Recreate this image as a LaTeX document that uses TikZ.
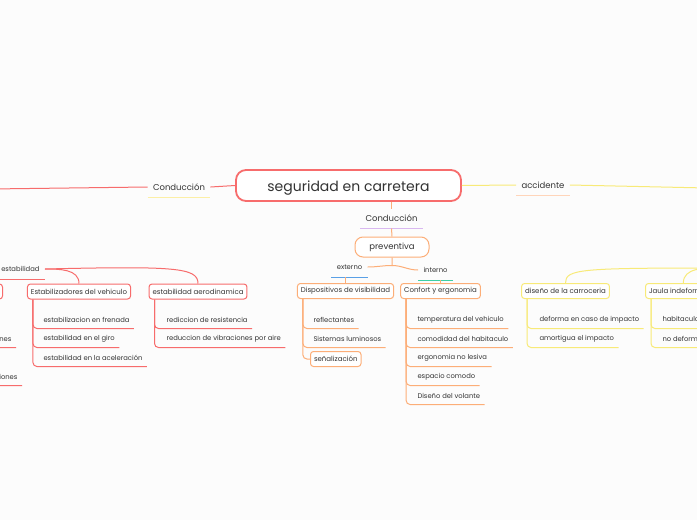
\documentclass[tikz,border=0pt]{standalone}
\usepackage{fontspec}
\setmainfont{Poppins}
\usepackage{tikz}
\usetikzlibrary{calc}
\usepackage{xcolor}
\definecolor{Cred}{HTML}{F76C6C}
\definecolor{Corange}{HTML}{FCAE78}
\definecolor{Cyellow}{HTML}{F8EA78}
\definecolor{Clav}{HTML}{D9B8F0}
\definecolor{Cblue}{HTML}{5AA0E6}
\definecolor{Cteal}{HTML}{3FCFA2}
\definecolor{Cpeach}{HTML}{FFD5BA}
\definecolor{Cpale}{HTML}{FCEFA6}
\definecolor{Ctext}{HTML}{333333}
\definecolor{Cbg}{HTML}{FCFCFC}

\begin{document}
\begin{tikzpicture}[x=1pt,y=-1pt,line width=1pt]

\tikzset{
root/.style={draw=Cred,line width=1.8pt,rounded corners=10pt,fill=white,minimum width=225pt,minimum height=31pt,text height=10pt,text depth=3pt,font=\fontsize{14}{16}\selectfont,text=Ctext},
topic/.style={minimum height=19pt,inner xsep=5pt,inner ysep=0pt,font=\fontsize{8.5}{10}\selectfont,text=Ctext},
small/.style={font=\fontsize{6.8}{8}\selectfont},
sub/.style={draw,line width=1pt,rounded corners=3pt,fill=white,minimum height=15pt,inner xsep=3.5pt,inner ysep=0pt,font=\fontsize{7}{8}\selectfont,text=Ctext},
leaf/.style={minimum height=16pt,inner xsep=4pt,inner ysep=0pt,font=\fontsize{6.8}{8}\selectfont,text=Ctext},
twig/.style={rounded corners=4pt,line width=1pt}
}
\def\dx{6pt}

\useasboundingbox (0,0) rectangle (697,520);
\clip (0,0) rectangle (697,520);
\fill[Cbg] (0,0) rectangle (697,520);

% main topic
\node[root] (root) at (348.5,185.5) {\raisebox{-2.5pt}{seguridad en carretera}};

\node[topic] (condL) at (179,187) {Conducción};
\node[topic] (acc) at (543,185) {accidente};
\coordinate (farL) at (-10,189);
\coordinate (farR) at (707,188);

\draw[Cred] (root.west) -- (condL.east);
\draw[Cred] (condL.west) -- (farL);
\draw[Cpale] (condL.south west) -- (condL.south east);

\draw[Cyellow] (root.east) -- (acc.west);
\draw[Cyellow] (acc.east) -- (farR);
\draw[Cpeach] (acc.south west) -- (acc.south east);

% preventiva branch
\node[topic] (condC) at (391.5,218.5) {Conducción};
\node[sub,draw=Corange,font=\fontsize{8.5}{10}\selectfont,minimum width=74pt,minimum height=20pt,rounded corners=8pt] (prev) at (392,247) {preventiva};
\draw[Corange] (condC.north |- root.south) -- (condC.north);
\draw[Clav] (condC.south west) -- (condC.south east);
\draw[Corange] (condC.south) -- (prev.north);

\node[topic,small] (ext) at (349.5,267) {externo};
\node[topic,small] (int) at (435.5,270) {interno};
\coordinate (jp) at ($(prev.south)+(0,8)$);
\draw[Corange] (prev.south) -- (jp) to[out=180,in=0] (ext.east);
\draw[Corange] (jp) to[out=0,in=180] (int.west);
\draw[Cblue] (ext.south west) -- (ext.south east);
\draw[Cteal] (int.south west) -- (int.south east);

\node[sub,draw=Corange] (dv) at (345.5,291) {Dispositivos de visibilidad};
\node[sub,draw=Corange] (ce) at (440.5,291) {Confort y ergonomia};
\draw[Corange] (dv.north |- ext.south) -- (dv.north);
\draw[Corange] (ce.north |- int.south) -- (ce.north);

\node[leaf,anchor=west] (d1) at (309,320) {reflectantes};
\node[leaf,anchor=west] (d2) at (309,339) {Sistemas luminosos};
\node[sub,draw=Corange,anchor=west] (d3) at (310,359) {señalización};
\foreach \n in {d1,d2}
  \draw[Corange,twig] ([xshift=\dx]dv.south west) |- (\n.south east);
\draw[Corange,twig] ([xshift=\dx]dv.south west) |- (d3.west);

\node[leaf,anchor=west] (c1) at (413,320) {temperatura del vehiculo};
\node[leaf,anchor=west] (c2) at (413,339) {comodidad del habitaculo};
\node[leaf,anchor=west] (c3) at (413,358) {ergonomia no lesiva};
\node[leaf,anchor=west] (c4) at (413,377) {espacio comodo};
\node[leaf,anchor=west] (c5) at (413,396) {Diseño del volante};
\foreach \n in {c1,c2,c3,c4,c5}
  \draw[Corange,twig] ([xshift=\dx]ce.south west) |- (\n.south east);

% left branch
\node[topic,small,anchor=east] (est) at (45,269) {control de estabilidad};
\draw[Cred] (est.south west) -- (est.south east);
\node[sub,draw=Cred] (ev) at (79,291.5) {Estabilizadores del vehiculo};
\node[sub,draw=Cred] (ea) at (198,291.5) {estabilidad aerodinamica};
\node[sub,draw=Cred,anchor=east,minimum width=80pt] (lb) at (3,291.5) {};
\draw[Cred] (est.east) to[out=0,in=90] (ev.north);
\draw[Cred] (est.east) .. controls +(130,-3) and +(0,-16) .. (ea.north);

\node[leaf,anchor=west] (e1) at (39,320) {estabilizacion en frenada};
\node[leaf,anchor=west] (e2) at (39,339) {estabilidad en el giro};
\node[leaf,anchor=west] (e3) at (39,358) {estabilidad en la aceleración};
\foreach \n in {e1,e2,e3}
  \draw[Cred,twig] ([xshift=\dx]ev.south west) |- (\n.south east);

\node[leaf,anchor=west] (a1) at (162,320) {rediccion de resistencia};
\node[leaf,anchor=west] (a2) at (162,339) {reduccion de vibraciones por aire};
\foreach \n in {a1,a2}
  \draw[Cred,twig] ([xshift=\dx]ea.south west) |- (\n.south east);

\node[leaf,anchor=east] (l1) at (16,339) {oscilaciones};
\node[leaf,anchor=east] (l2) at (22,377) {correcciones};
\foreach \n in {l1,l2}
  \draw[Cred,twig] ([xshift=\dx]lb.south west) |- (\n.south east);

% right branch
\coordinate (rp) at (720,268);
\node[sub,draw=Cyellow] (dc) at (565.5,291) {diseño de la carroceria};
\node[sub,draw=Cyellow,anchor=west] (jd) at (645,291) {Jaula indeformable};
\draw[Cyellow] (rp) .. controls +(-140,0) and +(0,-14) .. (dc.north);
\draw[Cyellow] (rp) to[out=180,in=90] (jd.north);

\node[leaf,anchor=west] (r1) at (535,320) {deforma en caso de impacto};
\node[leaf,anchor=west] (r2) at (535,339) {amortigua el impacto};
\foreach \n in {r1,r2}
  \draw[Cyellow,twig] ([xshift=\dx]dc.south west) |- (\n.south east);

\node[leaf,anchor=west] (j1) at (658,320) {habitaculo protegido};
\node[leaf,anchor=west] (j2) at (658,339) {no deformable};
\foreach \n in {j1,j2}
  \draw[Cyellow,twig] ([xshift=\dx]jd.south west) |- (\n.south east);

\end{tikzpicture}
\end{document}
